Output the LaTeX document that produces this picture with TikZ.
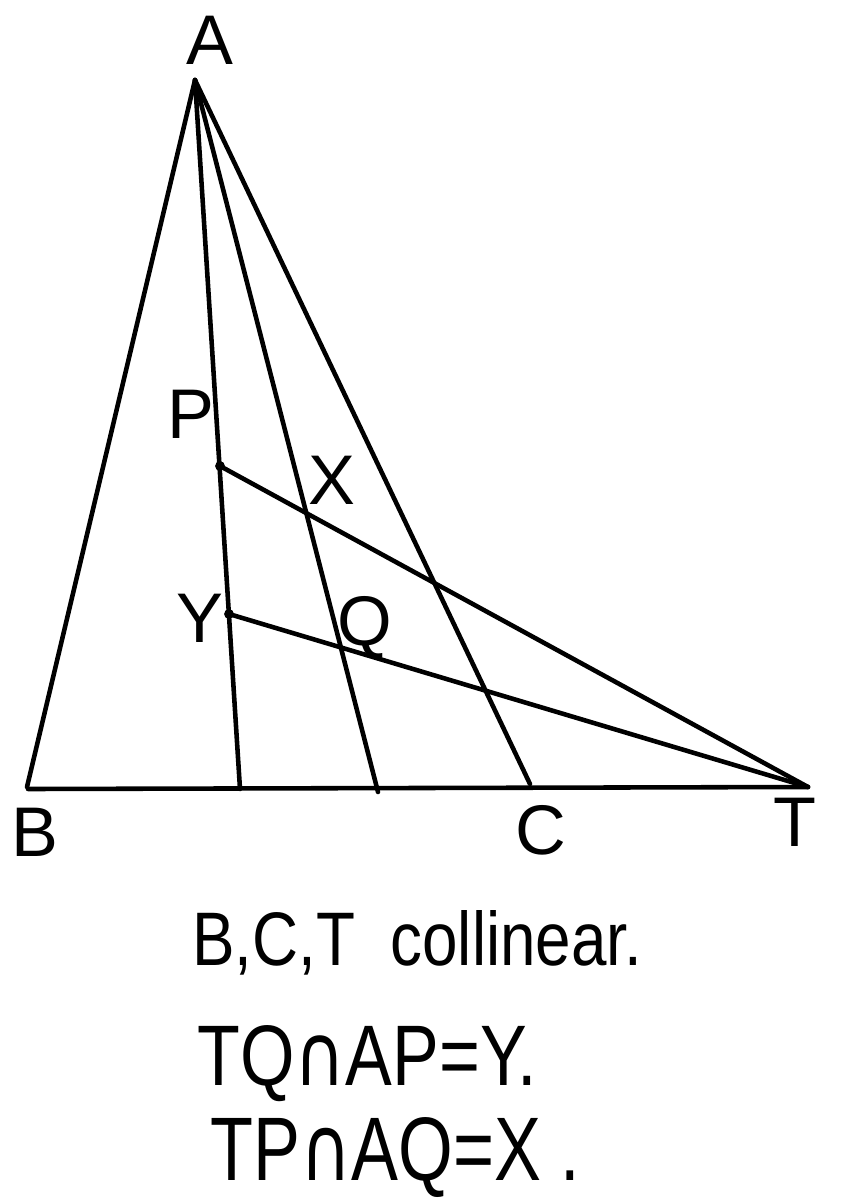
\documentclass[tikz,border=0pt]{standalone}
\usepackage{fontspec}
\usepackage{graphicx}
\setmainfont{Liberation Sans}
\newfontfamily\symfont{DejaVu Sans}
\begin{document}
\begin{tikzpicture}[x=0.02cm,y=-0.02cm,
  line width=2.6pt, line cap=round, line join=round,
  lbl/.style={font=\fontsize{40}{40}\selectfont, inner sep=0pt},
  note/.style={inner sep=0pt, anchor=base west}]
\useasboundingbox (0,0) rectangle (851,1200);
\fill[white] (0,0) rectangle (851,1200);
% points
\coordinate (A) at (195,80);
\coordinate (B) at (27,787);
\coordinate (B0) at (28,789);
\coordinate (D) at (240,789);
\coordinate (F) at (378,792);
\coordinate (C) at (530,784);
\coordinate (T) at (808,787);
\coordinate (P) at (220,466);
\coordinate (Y) at (229,614);
% lines
\draw (A) -- (B);
\draw (A) -- (D);
\draw (A) -- (F);
\draw (A) -- (C);
\draw (B0) -- (T);
\draw (P) -- (T);
\draw (Y) -- (T);
\fill (P) circle[radius=2.8pt];
\fill (Y) circle[radius=2.8pt];
% labels
\node[lbl] (lA) at (210,40) {A};
\node[lbl] (lB) at (35,832) {B};
\node[lbl] (lC) at (541,830) {C};
\node[lbl] (lT) at (795,822) {T};
\node[lbl] (lP) at (191,414) {P};
\node[lbl] (lX) at (332,480) {X};
\node[lbl] (lY) at (200,618) {Y};
\node[lbl] (lQ) at (365,628) {Q};
% notes
\node[note] (n1) at (190,965) {\resizebox{9cm}{1.1cm}{B,C,T\ \ collinear.}};
\node[note] (n2) at (195,1085) {\resizebox{6.8cm}{1.2cm}{TQ{\symfont ∩}AP=Y.}};
\node[note] (n3) at (208,1180) {\resizebox{7.4cm}{1.26cm}{TP{\symfont ∩}AQ=X\ .}};
\end{tikzpicture}
\end{document}
